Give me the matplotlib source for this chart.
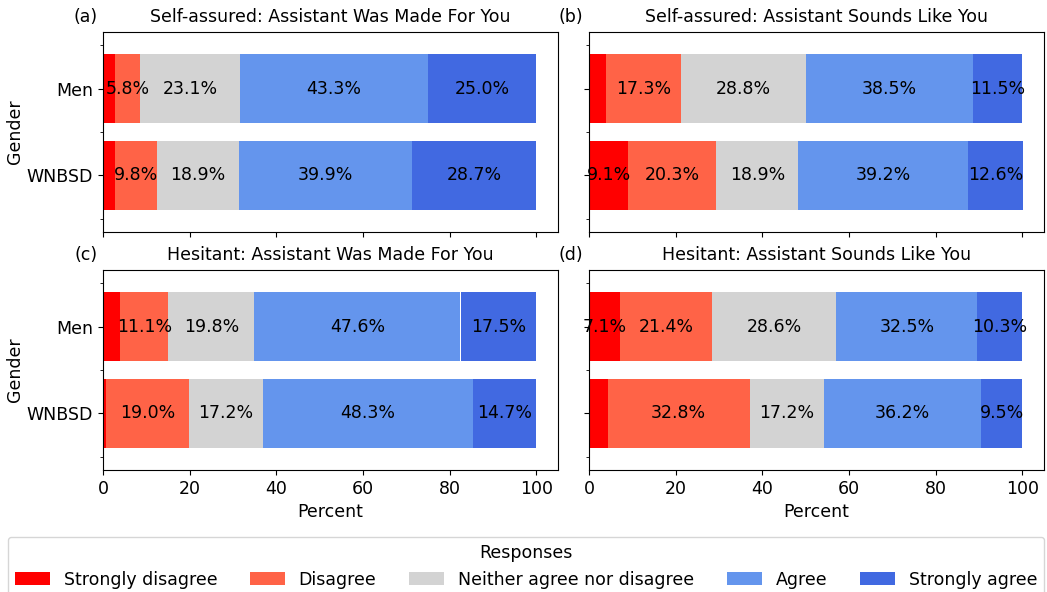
import matplotlib
matplotlib.use("Agg")
import matplotlib.pyplot as plt
import numpy as np

responses = ["Strongly disagree", "Disagree", "Neither agree nor disagree", "Agree", "Strongly agree"]
colors = ["red", "tomato", "lightgray", "cornflowerblue", "royalblue"]
genders = ["Men", "WNBSD"]

titles = ["Self-assured: Assistant Was Made For You",
          "Self-assured: Assistant Sounds Like You",
          "Hesitant: Assistant Was Made For You",
          "Hesitant: Assistant Sounds Like You"]
panel_labels = ["(a)", "(b)", "(c)", "(d)"]

# values per panel: rows = genders (Men, WNBSD), cols = responses
a_men = [2.8, 5.8, 23.1, 43.3, 25.0]
a_wnbsd = [2.7, 9.8, 18.9, 39.9, 28.7]
b_men = [3.9, 17.3, 28.8, 38.5, 11.5]
b_wnbsd = [9.1, 20.3, 18.9, 39.2, 12.6]
c_men = [4.0, 11.1, 19.8, 47.6, 17.5]
c_wnbsd = [0.8, 19.0, 17.2, 48.3, 14.7]
d_men = [7.1, 21.4, 28.6, 32.5, 10.3]
d_wnbsd = [4.3, 32.8, 17.2, 36.2, 9.5]

panels = [[a_men, a_wnbsd], [b_men, b_wnbsd], [c_men, c_wnbsd], [d_men, d_wnbsd]]

fs = 12.5
fig, axes = plt.subplots(2, 2, figsize=(10.47, 5.92), dpi=100, sharex=True, sharey=True)
fig.subplots_adjust(left=103/1047, right=1044/1047, top=1-32/592, bottom=1-470/592,
                    wspace=31/455, hspace=38/200)

ypos = np.arange(len(genders))
for i, ax in enumerate(axes.flat):
    data = np.array(panels[i])
    left = np.zeros(len(genders))
    for j, resp in enumerate(responses):
        vals = data[:, j]
        bars = ax.barh(ypos, vals, left=left, height=0.8, color=colors[j], label=resp,
                       linewidth=0)
        labels = [f"{v:.1f}%" if v > 5 else "" for v in vals]
        ax.bar_label(bars, labels=labels, label_type="center", fontsize=12.5)
        left += vals
    ax.set_xlim(0, 105)
    ax.set_ylim(1.65, -0.65)
    ax.set_yticks(ypos)
    ax.set_yticklabels(genders, fontsize=fs)
    ax.set_yticks([-0.5, 0.5, 1.5], minor=True)
    ax.tick_params(axis="y", which="minor", length=2)
    ax.set_xticks([0, 20, 40, 60, 80, 100])
    ax.tick_params(axis="x", labelsize=fs)
    ax.set_title(titles[i], fontsize=fs, pad=7)
    ax.text(-0.012, 1.03, panel_labels[i], transform=ax.transAxes, fontsize=fs,
            ha="right", va="bottom")
    if i % 2 == 0:
        ax.set_ylabel("Gender", fontsize=fs, labelpad=2)
    if i >= 2:
        ax.set_xlabel("Percent", fontsize=fs)
    ax.tick_params(axis="y", which="major", labelleft=(i % 2 == 0))

handles, labs = axes[0, 0].get_legend_handles_labels()
fig.legend(handles, labs, loc="upper left",
           bbox_to_anchor=(8/1047, -0.05, (1044-8)/1047, 1-537/592+0.05),
           ncol=5, title="Responses", fontsize=fs, title_fontsize=fs,
           mode="expand", borderaxespad=0)
fig.savefig("out.png", dpi=100)
